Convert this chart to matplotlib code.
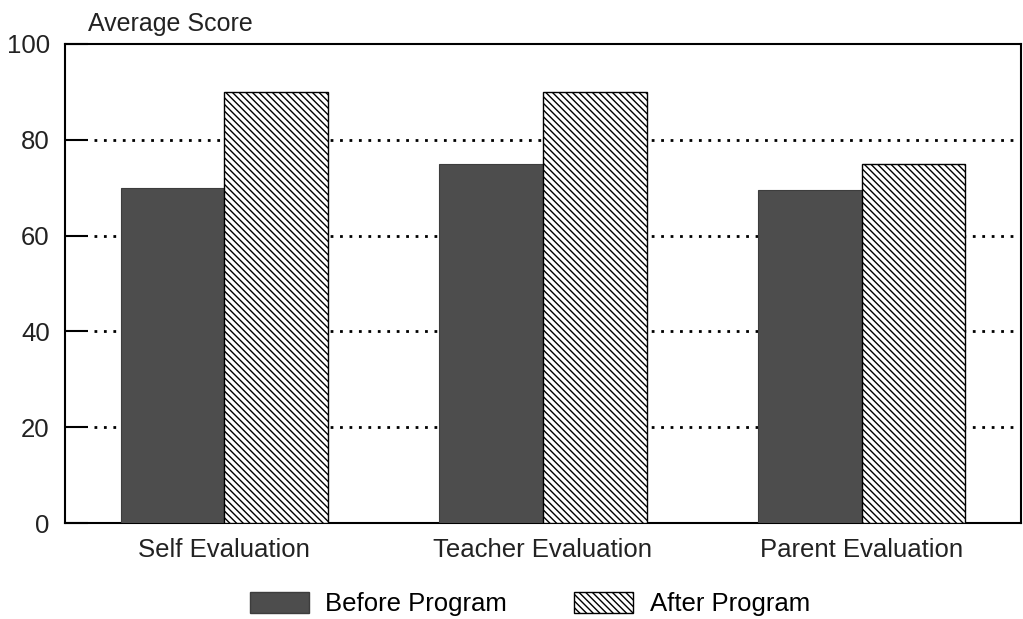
import matplotlib
matplotlib.use("Agg")
import matplotlib.pyplot as plt
import numpy as np
from matplotlib.patches import Patch

plt.rcParams['font.family'] = ['Liberation Sans', 'DejaVu Sans']
plt.rcParams['hatch.linewidth'] = 1.0

categories = ["Self Evaluation", "Teacher Evaluation", "Parent Evaluation"]
before = [70.0, 75.0, 69.5]
after = [90.0, 90.0, 75.0]
series_labels = ["Before Program", "After Program"]
yticks = [0, 20, 40, 60, 80, 100]

fig = plt.figure(figsize=(10.23, 6.19), dpi=100)
ax = fig.add_axes([0.0635, 0.155, 0.9345, 0.774])

x = np.arange(len(categories))
w = 0.325
HATCH = "\\\\\\\\\\"
ax.bar(x - w / 2, before, width=w, color="#4d4d4d", edgecolor="#3d3d3d", linewidth=0.8, zorder=3)
ax.bar(x + w / 2, after, width=w, color="white", edgecolor="black", linewidth=1.0,
       hatch=HATCH, zorder=3)

ax.set_xlim(-0.5, 2.5)
ax.set_ylim(0, 100)
ax.set_yticks(yticks)
ax.set_xticks(x)
ax.set_xticklabels(categories, fontsize=18.5, color="#222222")
ax.tick_params(axis='x', length=0, pad=11)
ax.tick_params(axis='y', direction='in', length=16.5, width=1.5, labelsize=18.5,
               labelcolor="#222222", pad=11)

for v in yticks[1:-1]:
    ax.plot([-0.41, 2.5], [v, v], linestyle=(0, (1, 2.4)), color="black", linewidth=2.0,
            zorder=1)

for s in ax.spines.values():
    s.set_linewidth(1.5)

fig.text(0.086, 0.962, "Average Score", fontsize=18, color="#222222", ha="left", va="center")

handles = [Patch(facecolor="#4d4d4d", edgecolor="#3d3d3d"),
           Patch(facecolor="white", edgecolor="black", hatch=HATCH)]
fig.legend(handles, series_labels, loc="center", bbox_to_anchor=(0.518, 0.024), ncol=2,
           frameon=False, fontsize=18.5, handlelength=2.3, handleheight=0.9,
           columnspacing=2.6, handletextpad=0.65)

fig.savefig("out.png", dpi=100, facecolor="white")
